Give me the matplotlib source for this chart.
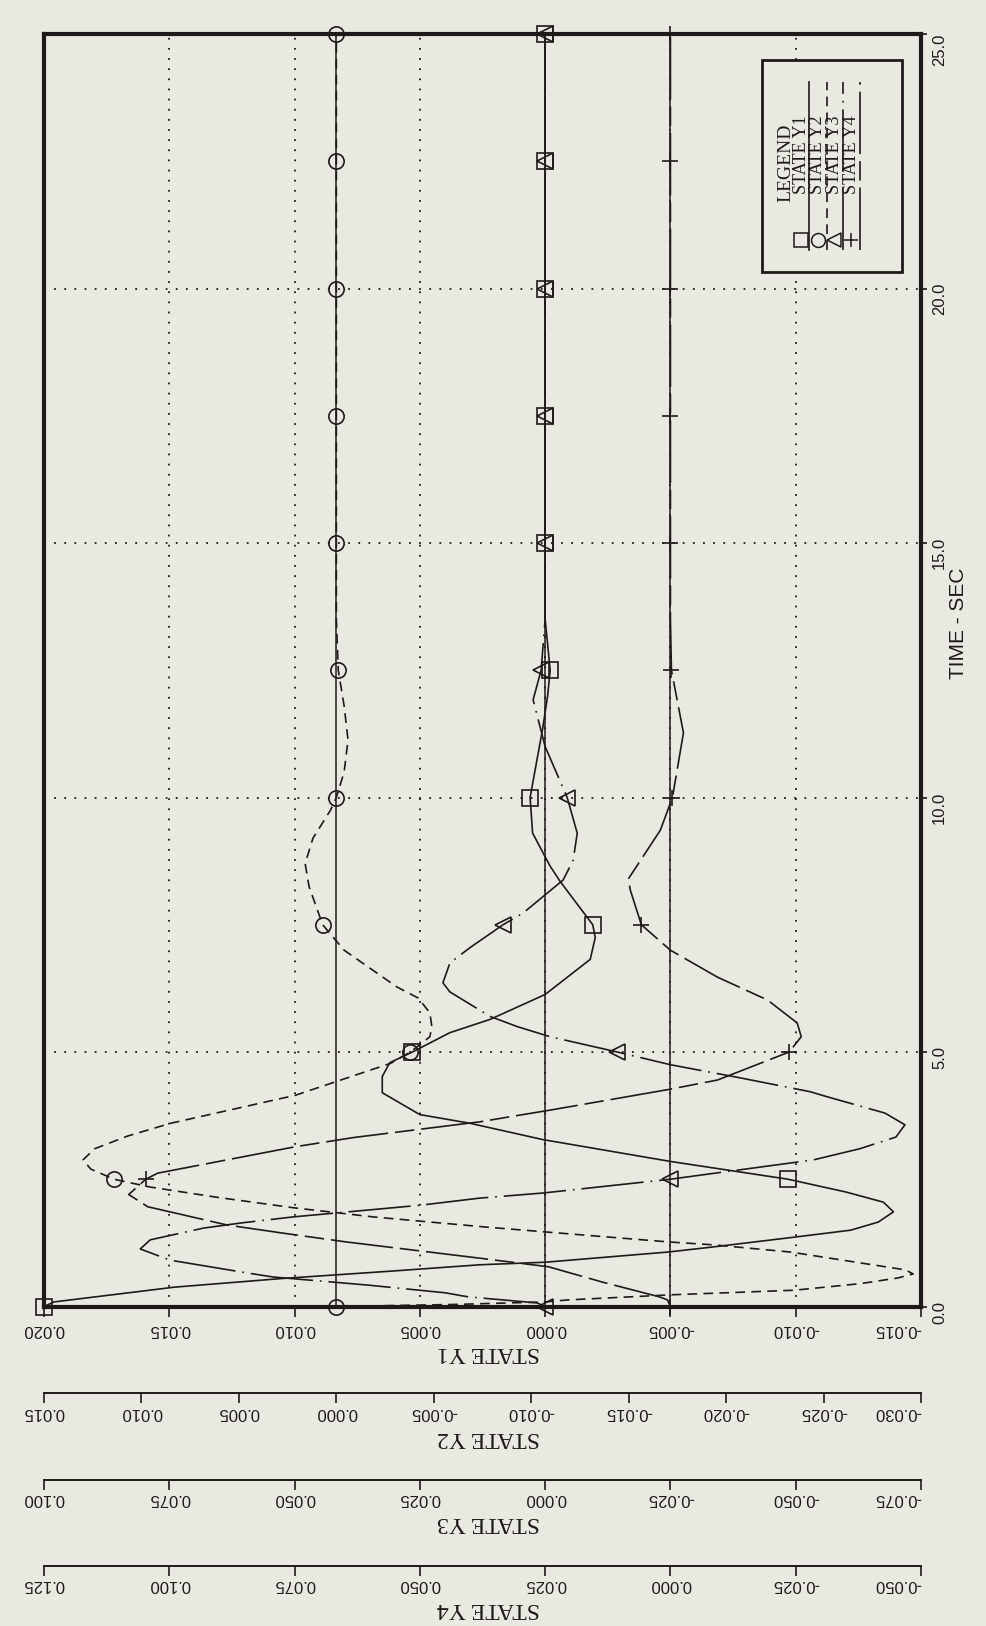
import numpy as np
import matplotlib
matplotlib.use('Agg')
import matplotlib.pyplot as plt
from matplotlib.patches import Rectangle

# --- DATOS ---
t_y1 = [0.0, 0.09, 0.38, 0.55, 0.70, 0.82, 0.87, 1.07, 1.17, 1.36, 1.50, 1.66, 1.86, 2.05, 2.25, 2.5,
        2.85, 3.28, 3.6, 3.77, 4.2, 4.52, 4.79, 5.0, 5.38, 5.64, 6.13, 6.82, 7.25, 7.5, 8.35, 8.65,
        9.3, 10.0, 11.35, 12.0, 12.5, 13.5, 15.0, 17.5, 20.0, 22.5, 25.0]
y1 = [0.0200, 0.0196, 0.0148, 0.0105, 0.0060, 0.0026, 0.0000, -0.0049, -0.0067, -0.0099, -0.0122,
      -0.0133, -0.0139, -0.0135, -0.0120, -0.0097, -0.0050, 0.0001, 0.0030, 0.0050, 0.0065, 0.0065,
      0.0062, 0.0053, 0.0038, 0.0022, 0.0000, -0.0018, -0.0020, -0.0019, -0.0006, -0.0002, 0.0005,
      0.0006, 0.0001, -0.0001, -0.0002, 0.0, 0.0, 0.0, 0.0, 0.0, 0.0]

t_y2 = [0.0, 0.04, 0.09, 0.13, 0.23, 0.32, 0.45, 0.56, 0.64, 0.72, 0.85, 1.07, 1.21, 1.27, 1.46, 1.56,
        1.76, 1.94, 2.15, 2.35, 2.5, 2.7, 2.88, 3.1, 3.35, 3.6, 4.15, 4.78, 5.0, 5.3, 5.5, 5.77, 6.06,
        6.28, 7.0, 7.5, 8.25, 8.7, 9.2, 9.75, 10.0, 10.5, 11.13, 11.8, 12.5, 13.5, 15.0, 17.5, 20.0,
        22.5, 25.0]
y2 = [0.0, -0.0060, -0.0107, -0.0119, -0.0172, -0.0235, -0.0269, -0.0288, -0.0296, -0.0292, -0.0270,
      -0.0233, -0.0194, -0.0170, -0.0109, -0.0077, -0.0019, 0.0022, 0.0062, 0.0096, 0.0114, 0.0126,
      0.0130, 0.0124, 0.0107, 0.0085, 0.0021, -0.0028, -0.0038, -0.0048, -0.0049, -0.0048, -0.0042,
      -0.0031, -0.0004, 0.0007, 0.0014, 0.0016, 0.0012, 0.0003, 0.0, -0.0004, -0.0006, -0.0004,
      -0.0001, 0.0, 0.0, 0.0, 0.0, 0.0, 0.0]

t_y3 = [0.0, 0.07, 0.19, 0.27, 0.42, 0.58, 0.66, 0.91, 1.13, 1.31, 1.54, 1.64, 1.76, 1.99, 2.13, 2.23,
        2.5, 2.88, 3.1, 3.33, 3.57, 3.8, 4.12, 4.22, 4.5, 4.75, 5.0, 5.3, 5.5, 5.7, 6.18, 6.36, 6.75,
        7.05, 7.5, 7.73, 8.38, 8.77, 9.3, 10.0, 11.0, 11.92, 12.5, 13.5, 15.0, 17.5, 20.0, 22.5, 25.0]
y3 = [0.0, 0.0016, 0.0154, 0.0200, 0.0353, 0.0543, 0.0595, 0.0748, 0.0808, 0.0788, 0.0682, 0.0608,
      0.0503, 0.0249, 0.0130, 0.0004, -0.0249, -0.0535, -0.0628, -0.0700, -0.0718, -0.0678, -0.0563,
      -0.0529, -0.0385, -0.0250, -0.0144, -0.0010, 0.0056, 0.0110, 0.0190, 0.0204, 0.0190, 0.0150,
      0.0084, 0.0044, -0.0036, -0.0056, -0.0064, -0.0044, 0.0000, 0.0024, 0.0008, 0.0, 0.0, 0.0,
      0.0, 0.0, 0.0]

t_y4 = [0.0, 0.13, 0.19, 0.48, 0.78, 0.95, 1.27, 1.44, 1.6, 1.96, 2.2, 2.5, 2.62, 3.14, 3.32, 3.63,
        3.73, 3.86, 4.27, 4.45, 4.65, 5.0, 5.3, 5.57, 6.02, 6.47, 7.0, 7.5, 8.18, 8.4, 9.36, 10.0,
        11.27, 12.5, 13.5, 15.0, 17.5, 20.0, 22.5, 25.0]
y4 = [0.0, 0.0006, 0.0022, 0.0136, 0.0243, 0.0381, 0.0648, 0.0772, 0.0884, 0.1043, 0.1081, 0.1047,
      0.1023, 0.0748, 0.0632, 0.0379, 0.0319, 0.0239, 0.0000, -0.0094, -0.0146, -0.0237, -0.0261,
      -0.0253, -0.0194, -0.0094, 0.0000, 0.0058, 0.0080, 0.0084, 0.0020, -0.0004, -0.0026, -0.0002,
      0.0, 0.0, 0.0, 0.0, 0.0, 0.0]

time_ticks = [0.0, 5.0, 10.0, 15.0, 20.0, 25.0]
time_labels = ['0.0', '5.0', '10.0', '15.0', '20.0', '25.0']
y1_ticks = [0.020, 0.015, 0.010, 0.005, 0.000, -0.005, -0.010, -0.015]
y1_labels = ['0.020', '0.015', '0.010', '0.005', '0.000', '-0.005', '-0.010', '-0.015']
y2_ticks = [0.015, 0.010, 0.005, 0.000, -0.005, -0.010, -0.015, -0.020, -0.025, -0.030]
y2_labels = ['0.015', '0.010', '0.005', '0.000', '-0.005', '-0.010', '-0.015', '-0.020', '-0.025', '-0.030']
y3_ticks = [0.100, 0.075, 0.050, 0.025, 0.000, -0.025, -0.050, -0.075]
y3_labels = ['0.100', '0.075', '0.050', '0.025', '0.000', '-0.025', '-0.050', '-0.075']
y4_ticks = [0.125, 0.100, 0.075, 0.050, 0.025, 0.000, -0.025, -0.050]
y4_labels = ['0.125', '0.100', '0.075', '0.050', '0.025', '0.000', '-0.025', '-0.050']

nombres = ['STATE Y1', 'STATE Y2', 'STATE Y3', 'STATE Y4']

# --- ESTILO ---
FONDO = '#e9e9e2'
TINTA = '#1e1a1a'
ANGOSTA = ['Liberation Sans', 'DejaVu Sans']
SERIF = ['Liberation Serif', 'DejaVu Serif']
plt.rcParams['lines.scale_dashes'] = False
plt.rcParams['axes.unicode_minus'] = False

estilos = ['-', (0, (7, 4.5)), (0, (45, 5, 1.2, 5)), (0, (45, 5, 14, 5))]
marcas = ['s', 'o', '<', '+']


def indices_marca(tiempos):
    """Posiciones de los simbolos: cada 2.5 s."""
    return [i for i, t in enumerate(tiempos) if abs(t / 2.5 - round(t / 2.5)) < 1e-9]


def dibujar(ax, t, v, k):
    ax.plot(v, t, color=TINTA, lw=1.2, ls=estilos[k], marker=marcas[k], markersize=11,
            mfc='none', mec=TINTA, mew=1.2, markevery=indices_marca(t), clip_on=False, zorder=4)


fig = plt.figure(figsize=(9.87, 16.26), dpi=100, facecolor=FONDO)
ax = fig.add_axes([0.04458, 0.19649, 0.88855, 0.78260])
ax.set_facecolor(FONDO)
ax.set_xlim(0.020, -0.015)
ax.set_ylim(0, 25)

for s in ax.spines.values():
    s.set_linewidth(3.0)
    s.set_color(TINTA)

ax.set_xticks(y1_ticks, labels=y1_labels, rotation=180, fontfamily=ANGOSTA, fontsize=12)
ax.yaxis.tick_right()
ax.set_yticks(time_ticks, labels=time_labels, rotation=90, fontfamily=ANGOSTA, fontsize=12)
ax.tick_params(axis='x', direction='out', length=7, width=1.2, pad=4.5, colors=TINTA)
ax.tick_params(axis='y', direction='out', length=4, width=1.2, pad=4, colors=TINTA)
ax.get_xticklabels()[-1].set_ha('right')
ax.get_yticklabels()[-1].set_va('top')
ax.grid(True, color=TINTA, lw=1.3, ls=(0, (1.3, 6)))
ax.set_axisbelow(True)
ax.axvline(0, color=TINTA, lw=1.1, zorder=2)

ax.set_xlabel(nombres[0], rotation=180, fontfamily=SERIF, fontsize=17, color=TINTA)
ax.xaxis.set_label_coords(0.507, -0.028)

ax.text(1.043, 0.537, 'TIME - SEC', transform=ax.transAxes, rotation=90, ha='center', va='center',
        fontfamily=ANGOSTA, fontsize=15, color=TINTA)

# ejes extra para Y2..Y4 debajo del principal
extras = []
for lim, ticks, labels, offset in [((0.015, -0.030), y2_ticks, y2_labels, 62.6),
                                   ((0.100, -0.075), y3_ticks, y3_labels, 124.6),
                                   ((0.125, -0.050), y4_ticks, y4_labels, 186.5)]:
    tw = ax.twiny()
    tw.set_xlim(*lim)
    tw.xaxis.tick_bottom()
    tw.xaxis.set_label_position('bottom')
    for lado in ['top', 'left', 'right']:
        tw.spines[lado].set_visible(False)
    tw.spines['bottom'].set_position(('outward', offset))
    tw.spines['bottom'].set_linewidth(1.4)
    tw.spines['bottom'].set_color(TINTA)
    tw.set_xticks(ticks, labels=labels, rotation=180, fontfamily=ANGOSTA, fontsize=12)
    tw.tick_params(axis='x', direction='out', length=7, width=1.2, pad=1, colors=TINTA)
    tw.get_xticklabels()[-1].set_ha('right')
    extras.append(tw)

ax2, ax3, ax4 = extras
for k, tw in enumerate(extras):
    tw.set_xlabel(nombres[k + 1], rotation=180, fontfamily=SERIF, fontsize=17, color=TINTA)
    tw.xaxis.set_label_coords(0.507, [-0.0945, -0.1615, -0.2290][k])

ax2.axvline(0, color=TINTA, lw=1.1, zorder=2)
ax4.axvline(0, color=TINTA, lw=1.1, zorder=2)

dibujar(ax, t_y1, y1, 0)
dibujar(ax2, t_y2, y2, 1)
dibujar(ax3, t_y3, y3, 2)
dibujar(ax4, t_y4, y4, 3)

# --- LEYENDA (girada como el resto) ---
ax.add_patch(Rectangle((0.8187, 0.8130), 0.1596, 0.1666, transform=ax.transAxes, fill=True,
                       facecolor=FONDO, edgecolor=TINTA, lw=2.0, zorder=6))
ax.text(0.8455, 0.8986, 'LEGEND', transform=ax.transAxes, rotation=90, ha='center', va='center',
        fontfamily=SERIF, fontsize=14, color=TINTA, zorder=7)
col_texto = [0.8635, 0.8820, 0.9012, 0.9205]
col_linea = [0.8728, 0.8930, 0.9113, 0.9305]
for k in range(4):
    ax.text(col_texto[k], 0.905, nombres[k], transform=ax.transAxes, rotation=90, ha='center',
            va='center', fontfamily=SERIF, fontsize=13, color=TINTA, zorder=7)
    ax.plot([col_texto[k]], [0.8381], transform=ax.transAxes, marker=marcas[k], markersize=10,
            mfc='none', mec=TINTA, mew=1.1, ls='none', zorder=7)
    ax.plot([col_linea[k], col_linea[k]], [0.8303, 0.9623], transform=ax.transAxes, color=TINTA,
            lw=1.2, ls=estilos[k], zorder=7)

fig.savefig('out.png', dpi=100, facecolor=FONDO)
